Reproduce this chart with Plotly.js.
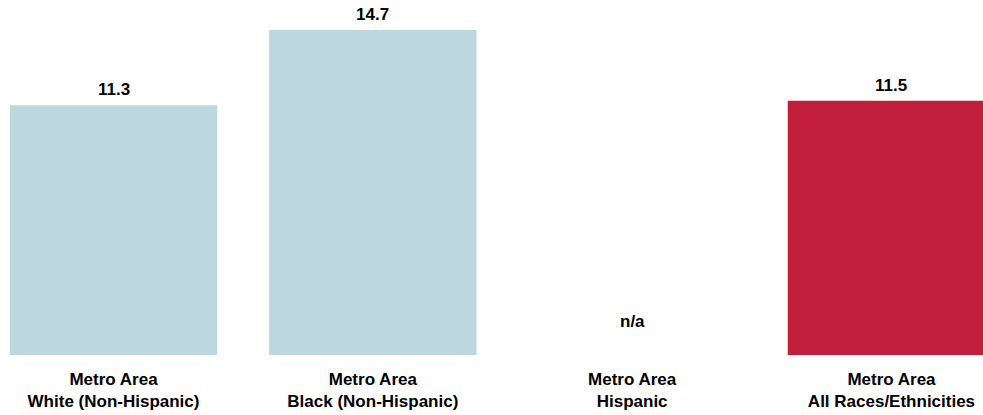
<!DOCTYPE html>
<html>
<head>
<meta charset="utf-8">
<script src="https://cdn.plot.ly/plotly-3.0.1.min.js"></script>
<style>html,body{margin:0;padding:0;background:#fff;}#chart{width:983px;height:415px;}</style>
</head>
<body>
<div id="chart"></div>
<script>
const categories = [
  "Metro Area<br>White (Non-Hispanic)",
  "Metro Area<br>Black (Non-Hispanic)",
  "Metro Area<br>Hispanic",
  "Metro Area<br>All Races/Ethnicities"
];
const values = [11.3, 14.7, null, 11.5];
const barColors = ["#bdd7de", "#bdd7de", "#bdd7de", "#c01e3a"];
const missingLabel = "n/a";

const FONT = "'Liberation Sans Narrow', 'Arial Narrow', 'Liberation Sans', Arial, sans-serif";
const FSIZE = 17;

const trace = {
  type: "bar",
  x: categories,
  y: values,
  marker: { color: barColors },
  hoverinfo: "skip"
};

const annotations = values.map((v, i) => ({
  x: categories[i], y: v === null ? 0 : v, xref: "x", yref: "y",
  text: v === null ? missingLabel : v.toFixed(1),
  showarrow: false,
  yanchor: "bottom", yshift: v === null ? 22 : 4,
  font: { family: FONT, size: FSIZE, color: "#000", weight: "bold" }
}));

const layout = {
  width: 983, height: 415,
  margin: { l: 0, r: 0, t: 0, b: 60, pad: 0 },
  paper_bgcolor: "#fff", plot_bgcolor: "#fff",
  showlegend: false,
  bargap: 0.2,
  xaxis: {
    range: [-0.4377, 3.353],
    showgrid: false, zeroline: false, showline: false,
    ticks: "", tickfont: { family: FONT, size: FSIZE, color: "#000", weight: "bold" },
    ticklabelstandoff: 12
  },
  yaxis: {
    range: [0, 16.06],
    visible: false, showgrid: false, zeroline: false
  },
  annotations: annotations
};

Plotly.newPlot("chart", [trace], layout, { displayModeBar: false, staticPlot: true });
</script>
</body>
</html>
